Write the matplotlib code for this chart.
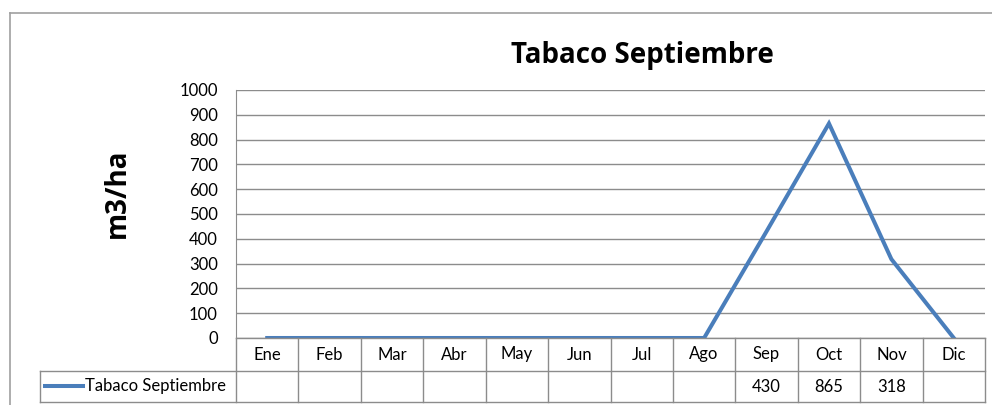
import matplotlib.pyplot as plt
from matplotlib.lines import Line2D

# chart data
months = ["Ene", "Feb", "Mar", "Abr", "May", "Jun", "Jul", "Ago", "Sep", "Oct", "Nov", "Dic"]
values = [0, 0, 0, 0, 0, 0, 0, 0, 430, 865, 318, 0]
tableValues = ["", "", "", "", "", "", "", "", "430", "865", "318", ""]
seriesName = "Tabaco Septiembre"
chartTitle = "Tabaco Septiembre"
yLabel = "m3/ha"

plt.rcParams["font.family"] = ["Lato", "DejaVu Sans"]

W, H = 992, 405
fig = plt.figure(figsize=(W / 100, H / 100), dpi=100)

def fx(px):
    return px / W

def fy(py):
    return 1 - py / H

lineColor = "#4a7ebb"
gridColor = "#8c8c8c"
smallSize = 12

# plot area in pixels
left, right, top, zero = 236, 985, 90, 338
ax = fig.add_axes([fx(left), fy(zero), fx(right - left), (zero - top) / H])
ax.plot(range(len(months)), values, color=lineColor, linewidth=2.9, solid_joinstyle="miter")
ax.set_xlim(-0.5, len(months) - 0.5)
ax.set_ylim(0, 1000)
ax.set_yticks(range(0, 1001, 100))
ax.yaxis.grid(True, color=gridColor, linewidth=1)
ax.set_axisbelow(True)
ax.set_xticks([])
ax.tick_params(axis="y", length=0, pad=13, labelsize=smallSize)
for s in ["top", "right", "bottom"]:
    ax.spines[s].set_visible(False)
ax.spines["left"].set_color(gridColor)

# outer chart border
fig.add_artist(Line2D([fx(10), fx(W)], [fy(13), fy(13)], color="#a0a0a0", linewidth=1.2))
fig.add_artist(Line2D([fx(10), fx(10)], [fy(13), 0], color="#a0a0a0", linewidth=1.2))

fig.text(fx(642), fy(55), chartTitle, ha="center", va="center", fontsize=20,
         fontweight="bold", family="Open Sans")
fig.text(fx(117), fy(193), yLabel, ha="center", va="center", rotation=90, fontsize=20,
         fontweight="bold", family="Open Sans")

# data table under the axis
rowMid, rowBot, legLeft = 371, 402, 40
colW = (right - left) / len(months)
tableColor = "#8c8c8c"

def hline(x0, x1, y):
    fig.add_artist(Line2D([fx(x0), fx(x1)], [fy(y), fy(y)], color=tableColor, linewidth=1))

def vline(x, y0, y1):
    fig.add_artist(Line2D([fx(x), fx(x)], [fy(y0), fy(y1)], color=tableColor, linewidth=1))

hline(left, right, zero)
hline(legLeft, right, rowMid)
hline(legLeft, right, rowBot)
vline(legLeft, rowMid, rowBot)
for i in range(len(months) + 1):
    vline(left + i * colW, zero, rowBot)

for i, m in enumerate(months):
    cx = left + (i + 0.5) * colW
    fig.text(fx(cx), fy((zero + rowMid) / 2), m, ha="center", va="center", fontsize=smallSize)
    fig.text(fx(cx), fy((rowMid + rowBot) / 2), tableValues[i], ha="center", va="center", fontsize=smallSize)

fig.add_artist(Line2D([fx(45), fx(83)], [fy(386), fy(386)], color=lineColor, linewidth=2.9))
fig.text(fx(85), fy(386.5), seriesName, ha="left", va="center", fontsize=smallSize)

fig.savefig("out.png", dpi=100)
